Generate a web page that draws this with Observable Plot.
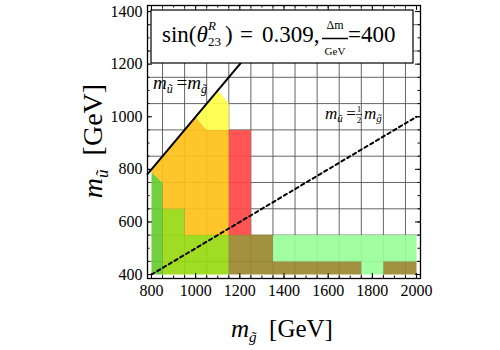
<!DOCTYPE html>
<html><head><meta charset="utf-8">
<script src="https://cdn.jsdelivr.net/npm/d3@7"></script>
<script src="https://cdn.jsdelivr.net/npm/@observablehq/plot@0.6"></script>
<style>body{margin:0;background:#fff;} svg{display:block} svg text{font-family:"Liberation Serif",serif !important;}</style>
</head><body><div id="chart"></div>
<script>
// ---- data (GeV) ----
const xTickLabels = [800, 1000, 1200, 1400, 1600, 1800, 2000];
const yTickLabels = [400, 600, 800, 1000, 1200, 1400];
const gridGluino = [850, 950, 1050, 1150, 1250, 1350, 1450, 1550, 1650, 1750, 1850, 1950];
const gridSquark = [450, 550, 650, 750, 850, 950, 1050, 1150, 1250, 1350];

// region outlines [m_gluino, m_squark]
const greenRegion = [[800,400],[800,790],[850,750],[850,400]];
const limeRegion = [[850,400],[850,650],[950,650],[950,550],[1150,550],[1150,400]];
const orangeRegion = [[800,790],[800,800],[1000,1000],[1050,950],[1150,950],[1150,550],[950,550],[950,650],[850,650],[850,750]];
const yellowRegion = [[1000,1000],[1100,1100],[1150,1050],[1150,950],[1050,950]];
const redRegion = [[1150,550],[1150,950],[1250,950],[1250,550]];
const oliveRegionA = [[1150,400],[1150,550],[1350,550],[1350,450],[1750,450],[1750,400]];
const oliveRegionB = [[1850,400],[1850,450],[2000,450],[2000,400]];
const lightGreenRegion = [[1350,450],[1350,550],[2000,550],[2000,450],[1850,450],[1850,400],[1750,400],[1750,450]];

const equalMassLine = [[782,782],[1260,1260]];
const halfMassLine = [[800,400],[2000,1000]];

const regions = [
  [greenRegion, "#66cc2e"],
  [limeRegion, "#99d912"],
  [orangeRegion, "#ffc11a"],
  [yellowRegion, "#ffff4a"],
  [redRegion, "#ff4747"],
  [oliveRegionA, "#998830"],
  [oliveRegionB, "#998830"],
  [lightGreenRegion, "#99ff99"]
];

// ---- layout ----
const W = 500, H = 350, mL = 147, mR = 80, mT = 5, mB = 72;
const fw = W - mL - mR, fh = H - mT - mB;
const minorX = d3.range(800, 2001, 50), minorY = d3.range(400, 1401, 50);
const serif = "Liberation Serif";

const plot = Plot.plot({
  width: W, height: H,
  marginLeft: mL, marginRight: mR, marginTop: mT, marginBottom: mB,
  style: {fontFamily: serif, fontSize: "16px", color: "#000", background: "#fff"},
  x: {domain: [782, 2018]},
  y: {domain: [385, 1423]},
  marks: [
    Plot.ruleX(gridGluino, {stroke: "#555", strokeWidth: 0.9}),
    Plot.ruleY(gridSquark, {stroke: "#555", strokeWidth: 0.9}),
    ...regions.map(([pts, c]) => Plot.line(pts, {x: d => d[0], y: d => d[1], fill: c, fillOpacity: 0.92, stroke: "none"})),
    Plot.line(equalMassLine, {x: d => d[0], y: d => d[1], stroke: "#000", strokeWidth: 2}),
    Plot.line(halfMassLine, {x: d => d[0], y: d => d[1], stroke: "#000", strokeWidth: 2, strokeDasharray: "3.5,3.2"}),
    // inward frame ticks
    Plot.ruleX(xTickLabels, {insetTop: fh - 5, stroke: "#000"}),
    Plot.ruleX(xTickLabels, {insetBottom: fh - 5, stroke: "#000"}),
    Plot.ruleX(minorX, {insetTop: fh - 2.5, stroke: "#000"}),
    Plot.ruleX(minorX, {insetBottom: fh - 2.5, stroke: "#000"}),
    Plot.ruleY(yTickLabels, {insetRight: fw - 5, stroke: "#000"}),
    Plot.ruleY(yTickLabels, {insetLeft: fw - 5, stroke: "#000"}),
    Plot.ruleY(minorY, {insetRight: fw - 2.5, stroke: "#000"}),
    Plot.ruleY(minorY, {insetLeft: fw - 2.5, stroke: "#000"}),
    Plot.axisX(xTickLabels, {tickSize: 0, tickPadding: 6, label: null, tickFormat: d3.format("d"), fontSize: 16}),
    Plot.axisY(yTickLabels, {tickSize: 0, tickPadding: 5, label: null, tickFormat: d3.format("d"), fontSize: 16}),
    Plot.frame({stroke: "#000", strokeWidth: 1.3})
  ]
});
document.getElementById("chart").appendChild(plot);

// ---- annotations ----
const svg = d3.select(plot);
svg.selectAll("text").attr("font-family", serif).style("font-family", serif);
const g = svg.append("g").attr("font-family", serif).attr("fill", "#000");
function t(x, y, size, parts, anchor, transform) {
  const el = g.append("text").attr("x", x).attr("y", y).attr("font-size", size)
    .attr("text-anchor", anchor || "start");
  if (transform) el.attr("transform", transform);
  for (const p of parts) {
    const ts = el.append("tspan").text(p.s);
    if (p.i) ts.attr("font-style", "italic");
    if (p.size) ts.attr("font-size", p.size);
    if (p.dy) ts.attr("dy", p.dy);
  }
  return el;
}

// parameter box
g.append("rect").attr("x", 151).attr("y", 10).attr("width", 262).attr("height", 53)
  .attr("fill", "#fff").attr("stroke", "#000").attr("stroke-width", 1.2);
t(162, 42, 23, [{s: "sin("}, {s: "θ", i: true}]);
t(208, 30, 13, [{s: "R", i: true}]);
t(208, 46, 13, [{s: "23"}]);
t(225, 42, 23, [{s: ")"}]);
t(240, 42, 23, [{s: "="}]);
t(262, 42, 23, [{s: "0.309,"}]);
t(335, 29, 12, [{s: "Δm"}], "middle");
g.append("line").attr("x1", 322).attr("x2", 348).attr("y1", 38.5).attr("y2", 38.5).attr("stroke", "#000").attr("stroke-width", 1.5);
t(335, 55, 11, [{s: "GeV"}], "middle");
t(348, 42, 23, [{s: "=400"}]);

// m_u = m_g
t(153, 89, 19, [{s: "m", i: true}, {s: "ũ", i: true, size: 12, dy: 4}, {s: "\u2009=", dy: -4}, {s: "m", i: true}, {s: "g\u0303", i: true, size: 12, dy: 4}]);
// m_u = 1/2 m_g
t(325, 119, 17, [{s: "m", i: true}, {s: "ũ", i: true, size: 11, dy: 3}, {s: "\u2009=", dy: -3}]);
t(359, 112, 9, [{s: "1"}], "middle");
g.append("line").attr("x1", 356).attr("x2", 362).attr("y1", 114.5).attr("y2", 114.5).attr("stroke", "#000").attr("stroke-width", 0.7);
t(359, 123, 9, [{s: "2"}], "middle");
t(364, 119, 17, [{s: "m", i: true}, {s: "g\u0303", i: true, size: 11, dy: 3}]);

// axis titles
t(282, 337, 25, [{s: "m", i: true}, {s: "g\u0303", i: true, size: 15, dy: 5}, {s: "\u2002[GeV]", dy: -5}], "middle");
t(0, 0, 28, [{s: "m", i: true}, {s: "ũ", i: true, size: 17, dy: 6}, {s: "\u2002[GeV]", dy: -6}], "middle", "translate(102,141) rotate(-90)");
</script>
</body></html>
